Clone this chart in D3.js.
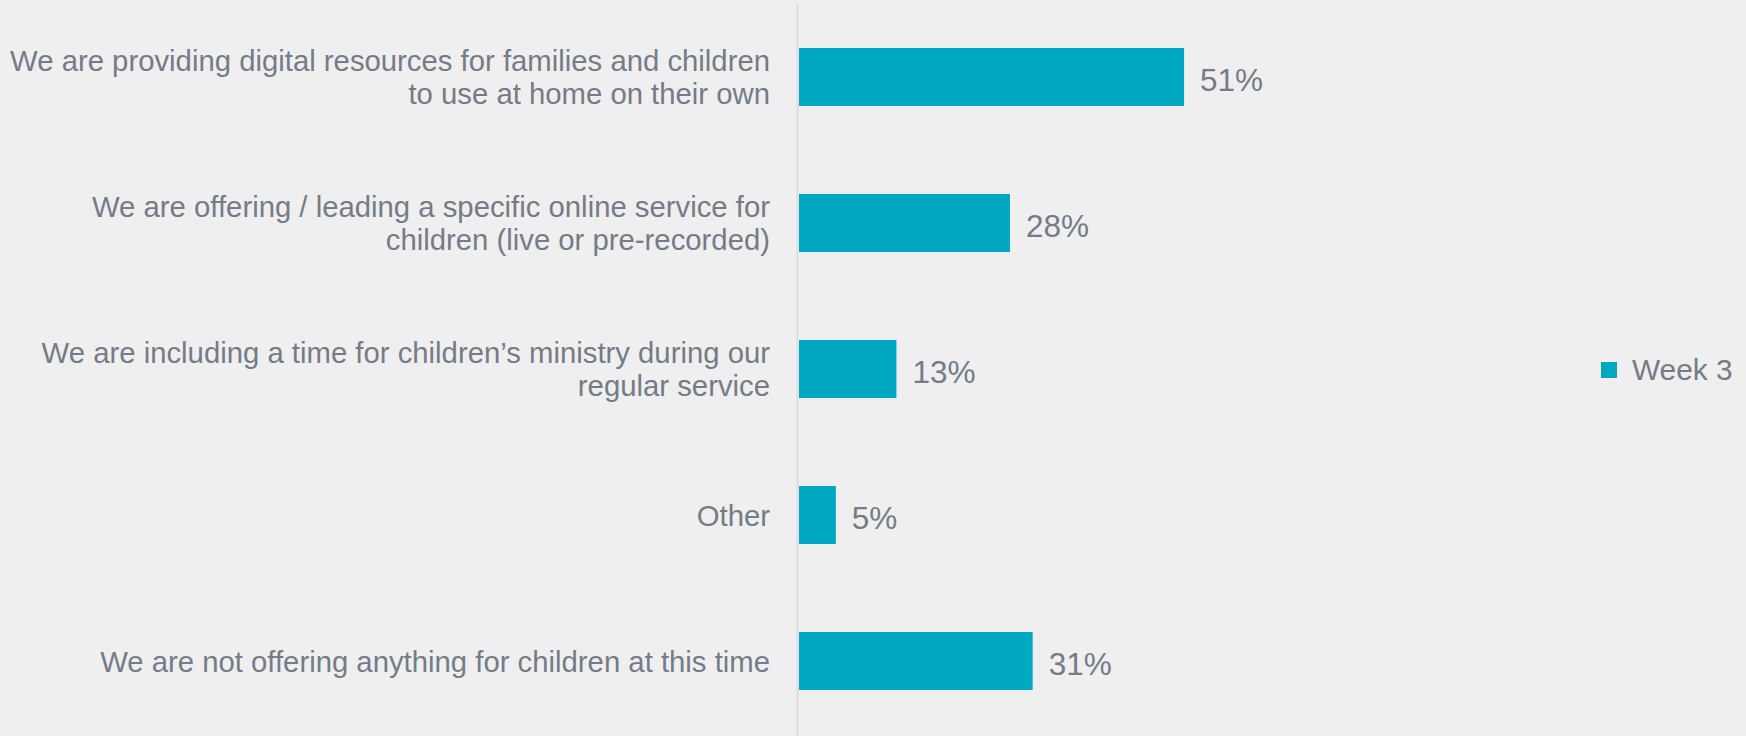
<!DOCTYPE html>
<html>
<head>
<meta charset="utf-8">
<script src="https://cdn.jsdelivr.net/npm/d3@7"></script>
<style>
  html, body { margin: 0; padding: 0; background: #efefef; }
  svg { display: block; }
</style>
</head>
<body>
<svg id="chart" width="1746" height="736"></svg>
<script>
const categories = [
  ["We are providing digital resources for families and children", "to use at home on their own"],
  ["We are offering / leading a specific online service for", "children (live or pre-recorded)"],
  ["We are including a time for children’s ministry during our", "regular service"],
  ["Other"],
  ["We are not offering anything for children at this time"]
];
const values = [51, 28, 13, 5, 31];
const valueLabels = ["51%", "28%", "13%", "5%", "31%"];
const seriesName = "Week 3";

const W = 1746, H = 736;
const axisX = 798;
const barColor = "#00a7c1";
const textColor = "#737c88";
const font = "'Liberation Sans', Arial, sans-serif";

const svg = d3.select("#chart");
svg.append("rect").attr("width", W).attr("height", H).attr("fill", "#efefef");

const idx = d3.range(values.length);
const y = d3.scaleBand().domain(idx).range([4, 734]).paddingInner(0.603).paddingOuter(0.3015);
const x = d3.scaleLinear().domain([0, 100]).range([axisX, axisX + 757]);

// axis line
svg.append("line")
  .attr("x1", axisX - 0.5).attr("x2", axisX - 0.5)
  .attr("y1", 4).attr("y2", H)
  .attr("stroke", "#dcdcdc").attr("stroke-width", 2);

// bars
svg.selectAll("rect.bar").data(idx).join("rect")
  .attr("class", "bar")
  .attr("x", x(0) + 1)
  .attr("y", i => y(i))
  .attr("width", i => x(values[i]) - x(0) - 1)
  .attr("height", y.bandwidth())
  .attr("fill", barColor);

// value labels
svg.selectAll("text.val").data(idx).join("text")
  .attr("class", "val")
  .attr("x", i => x(values[i]) + 16)
  .attr("y", i => y(i) + y.bandwidth() / 2 + 13.5)
  .attr("font-family", font).attr("font-size", 31.5)
  .attr("fill", textColor)
  .text(i => valueLabels[i]);

// category labels
const lineH = 33.3;
const cat = svg.selectAll("text.cat").data(idx).join("text")
  .attr("class", "cat")
  .attr("text-anchor", "end")
  .attr("font-family", font).attr("font-size", 29.3)
  .attr("fill", textColor);
cat.each(function(i) {
  const lines = categories[i];
  const cy = y(i) + y.bandwidth() / 2;
  const first = cy + 10.5 - (lines.length - 1) * lineH / 2;
  d3.select(this).selectAll("tspan").data(lines).join("tspan")
    .attr("x", axisX - 28)
    .attr("y", (d, k) => first + k * lineH)
    .text(d => d);
});

// legend
const lg = svg.append("g");
lg.append("rect").attr("x", 1601).attr("y", 362).attr("width", 16).attr("height", 16).attr("fill", barColor);
lg.append("text").attr("x", 1632).attr("y", 379.5)
  .attr("font-family", font).attr("font-size", 29.8)
  .attr("fill", textColor).text(seriesName);
</script>
</body>
</html>
